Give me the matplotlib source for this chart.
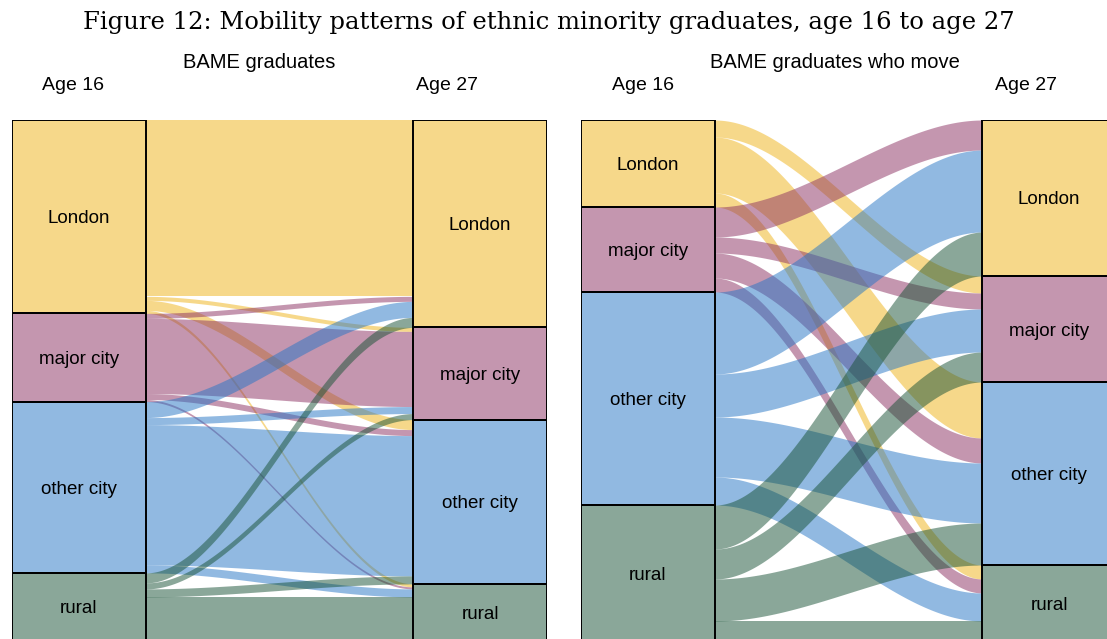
import numpy as np
import matplotlib.pyplot as plt

places = ["London", "major city", "other city", "rural"]
# base colours, drawn at alpha 0.5 like the original
colours = ["#EFB217", "#8B2F61", "#2575C5", "#175135"]

# flows: rows = place at age 16, columns = place at age 27
all_grads = np.array([[176, 4, 10, 3],
                      [5, 75, 6, 2],
                      [16, 7, 140, 8],
                      [10, 6, 8, 44]])
movers = np.array([[0, 17, 56, 14],
                   [30, 16, 25, 14],
                   [82, 43, 60, 28],
                   [44, 30, 42, 20]])

panel_titles = ["BAME graduates", "BAME graduates who move"]


def alluvial(ax, flows):
    src_tot = flows.sum(axis=1)
    dst_tot = flows.sum(axis=0)
    src_start = np.concatenate([[0], np.cumsum(src_tot)[:-1]])
    dst_start = np.concatenate([[0], np.cumsum(dst_tot)[:-1]])

    x = np.linspace(1, 3, 200)
    t = (x - 1) / 2
    s = t * t * (3 - 2 * t)
    for i in range(4):
        for j in range(4):
            f = flows[i, j]
            if f == 0:
                continue
            y0 = src_start[i] + flows[i, :j].sum()
            y1 = dst_start[j] + flows[:i, j].sum()
            top = y0 + (y1 - y0) * s
            ax.fill_between(x, top, top + f, color=colours[i], alpha=0.5, lw=0)

    for xpos, tot, start in [(0, src_tot, src_start), (3, dst_tot, dst_start)]:
        ax.bar([xpos] * 4, tot, bottom=start, width=1, align="edge",
               color=colours, alpha=0.5, edgecolor="none")
        ax.bar([xpos] * 4, tot, bottom=start, width=1, align="edge",
               fill=False, edgecolor="black", lw=1.4)
        for k in range(4):
            ax.text(xpos + 0.5, start[k] + tot[k] / 2, places[k], ha="center",
                    va="center_baseline", fontsize=13.5, family="Liberation Sans")

    ax.set_xlim(0, 4)
    ax.set_ylim(flows.sum(), 0)
    ax.axis("off")


fig = plt.figure(figsize=(11.07, 6.39), dpi=100)
W, H = 1107, 639
top_px, bot_px = 120, 641
for k, (flows, left_px) in enumerate([(all_grads, 12), (movers, 581)]):
    ax = fig.add_axes([left_px / W, 1 - bot_px / H, 535 / W, (bot_px - top_px) / H])
    alluvial(ax, flows)

sans = dict(family="Liberation Sans", ha="center", va="center")
fig.text(259.5 / W, 1 - 62 / H, panel_titles[0], fontsize=14.5, **sans)
fig.text(835 / W, 1 - 62 / H, panel_titles[1], fontsize=14.5, **sans)
for xp in [72.5, 642.5]:
    fig.text(xp / W, 1 - 85 / H, "Age 16", fontsize=14, **sans)
for xp in [447, 1026]:
    fig.text(xp / W, 1 - 85 / H, "Age 27", fontsize=14, **sans)

fig.text(549 / W, 1 - 23 / H,
         "Figure 12: Mobility patterns of ethnic minority graduates, age 16 to age 27",
         fontsize=17.5, family="DejaVu Serif", ha="center", va="center")

fig.savefig("out.png", dpi=100)
